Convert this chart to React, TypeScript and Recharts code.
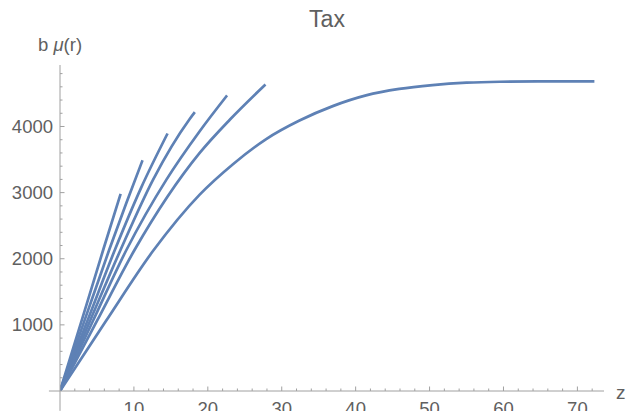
import React from "react";
import { LineChart, Line, XAxis, YAxis, ReferenceLine } from "recharts";

// ---- data ----
const curve1 = [
  { z: 0, v: 0 }, { z: 3, v: 1090 }, { z: 5.85, v: 2136 }, { z: 8.2, v: 2980 },
];
const curve2 = [
  { z: 0, v: 0 }, { z: 3.3, v: 1060 }, { z: 6.66, v: 2136 }, { z: 9, v: 2850 }, { z: 11.17, v: 3490 },
];
const curve3 = [
  { z: 0, v: 0 }, { z: 3.7, v: 1060 }, { z: 7.43, v: 2136 }, { z: 11, v: 3080 }, { z: 14.55, v: 3894 },
];
const curve4 = [
  { z: 0, v: 0 }, { z: 4.1, v: 1070 }, { z: 8.2, v: 2136 }, { z: 12.6, v: 3197 }, { z: 17.5, v: 4106 }, { z: 18.24, v: 4217 },
];
const curve5 = [
  { z: 0, v: 0 }, { z: 4.5, v: 1070 }, { z: 9.0, v: 2136 }, { z: 14.4, v: 3197 }, { z: 18.9, v: 3929 }, { z: 22.6, v: 4470 },
];
const curve6 = [
  { z: 0, v: 0 }, { z: 5, v: 1060 }, { z: 10.1, v: 2136 }, { z: 18.9, v: 3601 }, { z: 23.0, v: 4106 }, { z: 27.8, v: 4636 },
];
const curve7 = [
  { z: 0, v: 0 }, { z: 6.17, v: 1050 }, { z: 12.6, v: 2120 }, { z: 18.9, v: 2970 }, { z: 23.4, v: 3430 },
  { z: 27.9, v: 3810 }, { z: 32.4, v: 4090 }, { z: 36.9, v: 4308 }, { z: 41.4, v: 4470 }, { z: 45.9, v: 4568 },
  { z: 50.4, v: 4626 }, { z: 55, v: 4662 }, { z: 59.5, v: 4677 }, { z: 65, v: 4682 }, { z: 72.3, v: 4682 },
];
const curves = [curve1, curve2, curve3, curve4, curve5, curve6, curve7];

const xMajorTicks = [10, 20, 30, 40, 50, 60, 70];
const xMinorTicks = [2, 4, 6, 8, 12, 14, 16, 18, 22, 24, 26, 28, 32, 34, 36, 38, 42, 44, 46, 48, 52, 54, 56, 58, 62, 64, 66, 68, 72];
const yMajorTicks = [1000, 2000, 3000, 4000];
const yMinorTicks = [200, 400, 600, 800, 1200, 1400, 1600, 1800, 2200, 2400, 2600, 2800, 3200, 3400, 3600, 3800, 4200, 4400, 4600, 4800];

const titleText = "Tax";
const xLabelText = "z";

// ---- styles ----
const W = 629;
const H = 411;
const LINE_COLOR = "#5E81B5";
const AXIS_COLOR = "#a0a0a0";
const TEXT_COLOR = "#606060";
const FONT = "'Liberation Sans', Arial, sans-serif";
const TICK_FONT = 18.5;

const XTick = (props: any) => {
  const { x, y, payload } = props;
  const v = payload.value;
  const major = xMajorTicks.includes(v);
  return (
    <g>
      <line x1={x} x2={x} y1={y} y2={y - (major ? 4.5 : 2.5)} stroke={AXIS_COLOR} strokeWidth={1} />
      {major && (
        <text x={x} y={y + 24} textAnchor="middle" fill={TEXT_COLOR} fontSize={TICK_FONT} fontFamily={FONT}>
          {v}
        </text>
      )}
    </g>
  );
};

const YTick = (props: any) => {
  const { x, y, payload } = props;
  const v = payload.value;
  const major = yMajorTicks.includes(v);
  return (
    <g>
      <line x1={x} x2={x + (major ? 4.5 : 2.5)} y1={y} y2={y} stroke={AXIS_COLOR} strokeWidth={1} />
      {major && (
        <text x={x - 7} y={y + 6.6} textAnchor="end" fill={TEXT_COLOR} fontSize={TICK_FONT} fontFamily={FONT}>
          {v}
        </text>
      )}
    </g>
  );
};

export default function App() {
  const xTicks = [...xMajorTicks, ...xMinorTicks].sort((a, b) => a - b);
  const yTicks = [...yMajorTicks, ...yMinorTicks].sort((a, b) => a - b);
  return (
    <div style={{ position: "absolute", left: 0, top: 0, width: W, height: H, background: "#fff" }}>
      <LineChart width={W} height={H} margin={{ top: 65, right: 25, bottom: 0, left: 0 }}>
        <XAxis
          type="number"
          dataKey="z"
          domain={[0, 73.6]}
          allowDataOverflow
          ticks={xTicks}
          interval={0}
          height={20}
          tickSize={0}
          tickMargin={0}
          tickLine={false}
          axisLine={{ stroke: AXIS_COLOR, strokeWidth: 1 }}
          tick={XTick}
        />
        <YAxis
          type="number"
          dataKey="v"
          domain={[0, 4930]}
          allowDataOverflow
          ticks={yTicks}
          interval={0}
          width={60}
          tickSize={0}
          tickMargin={0}
          tickLine={false}
          axisLine={{ stroke: AXIS_COLOR, strokeWidth: 1 }}
          tick={YTick}
        />
        <ReferenceLine segment={[{ x: -1.5, y: 0 }, { x: 0, y: 0 }]} ifOverflow="visible" stroke={AXIS_COLOR} strokeWidth={1} />
        <ReferenceLine segment={[{ x: 0, y: -300 }, { x: 0, y: 0 }]} ifOverflow="visible" stroke={AXIS_COLOR} strokeWidth={1} />
        {curves.map((c, i) => (
          <Line
            key={i}
            data={c}
            dataKey="v"
            type="monotone"
            stroke={LINE_COLOR}
            strokeWidth={2.7}
            dot={false}
            activeDot={false}
            isAnimationActive={false}
          />
        ))}
      </LineChart>
      <svg width={W} height={H} style={{ position: "absolute", left: 0, top: 0, pointerEvents: "none" }}>
        <text x={327} y={27} textAnchor="middle" fill={TEXT_COLOR} fontSize={23} fontFamily={FONT}>
          {titleText}
        </text>
        <text x={38} y={51} fill={TEXT_COLOR} fontSize={18.5} fontFamily={FONT}>
          <tspan>b </tspan>
          <tspan fontStyle="italic">μ</tspan>
          <tspan>(r)</tspan>
        </text>
        <text x={616} y={399} fill={TEXT_COLOR} fontSize={19} fontFamily={FONT}>
          {xLabelText}
        </text>
      </svg>
    </div>
  );
}
